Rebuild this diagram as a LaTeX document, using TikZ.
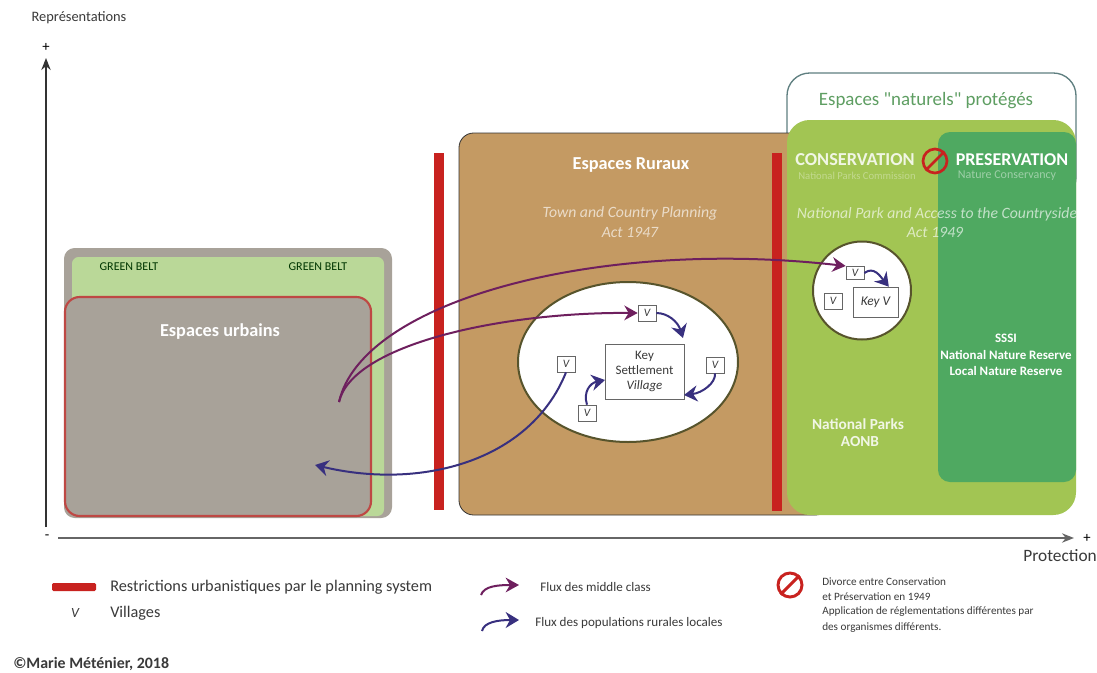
\documentclass[tikz,border=0pt]{standalone}
\usepackage{fontspec}
\setmainfont{Carlito}
\newfontfamily\plainquotes{Carlito}
\usetikzlibrary{arrows.meta}
\definecolor{beltgray}{HTML}{A8A299}
\definecolor{beltgreen}{HTML}{BAD898}
\definecolor{restrred}{HTML}{C8221F}
\definecolor{rural}{HTML}{C49A63}
\definecolor{natgreen}{HTML}{A2C553}
\definecolor{sssigreen}{HTML}{4FA961}
\definecolor{middleflow}{HTML}{6E1F5E}
\definecolor{localflow}{HTML}{38307F}
\definecolor{labelgray}{HTML}{3A3A3A}
\definecolor{natlabel}{HTML}{5E9E62}
\definecolor{natframe}{HTML}{5F7F80}
\newcommand{\fsize}[1]{\fontsize{#1}{#1}\selectfont}
\tikzset{
  villagebox/.style={draw=black!60,fill=white,line width=0.5pt,inner sep=0pt,
    minimum width=13.5pt,minimum height=12pt,font=\fsize{8.5}\itshape,text=labelgray},
  middlearrow/.style={draw=middleflow,line width=1.5pt,-{Stealth[length=10pt,width=11pt]}},
  localarrow/.style={draw=localflow,line width=1.5pt,-{Stealth[length=10pt,width=12pt]}},
  legendtext/.style={anchor=west,inner sep=0pt,text=labelgray,font=\fsize{12.2}},
  flowtext/.style={anchor=west,inner sep=0pt,text=labelgray,font=\fsize{9.8}},
  smalltext/.style={anchor=west,inner sep=0pt,text=labelgray,font=\fsize{8.4}},
  areatitle/.style={text=white,font=\fsize{13.7}\bfseries},
  acttext/.style={text=white,opacity=0.65,font=\fsize{11.8}\itshape},
  sssitext/.style={text=white,font=\fsize{9.7}\bfseries},
  beltlabel/.style={text=black!65!green!60!black,font=\fsize{9}},
  nosign/.style={draw=restrred,line width=2pt,circle,minimum size=18pt,inner sep=0pt},
}
\begin{document}
\begin{tikzpicture}[x=0.75pt,y=-0.75pt]
\useasboundingbox (0,0) rectangle (1097,672);
\fill[white] (0,0) rectangle (1097,672);

% axes
\coordinate (yaxisfoot) at (46,527);
\coordinate (yaxistop) at (46,58);
\coordinate (xaxisfoot) at (58,538);
\coordinate (xaxisend) at (1074,538);
\draw[line width=1.2pt,draw=black!80,-{Stealth[length=9pt,width=7pt]}] (yaxisfoot) -- (yaxistop);
\draw[line width=1.2pt,draw=black!60,-{Stealth[length=9pt,width=7pt]}] (xaxisfoot) -- (xaxisend);
\node[text=labelgray,font=\fsize{10.8}] (ytitle) at (79,18) {Représentations};
\node[font=\fsize{11}] (yplus) at (46,47) {+};
\node[font=\fsize{11}] (xminus) at (47,537) {-};
\node[font=\fsize{11}] (xplus) at (1087,538) {+};
\node[anchor=east,inner sep=0pt,text=labelgray,font=\fsize{13}] (xtitle) at (1097,556) {Protection};

% urban area and green belt
\fill[beltgray,rounded corners=8pt] (64,248) rectangle (392,518);
\fill[beltgreen,rounded corners=5pt] (72,257) rectangle (384,516);
\draw[draw=restrred!70!beltgray,line width=1.6pt,fill=beltgray,rounded corners=11pt] (65,297) rectangle (371,516);
\node[beltlabel] (beltleft) at (129,267) {GREEN BELT};
\node[beltlabel] (beltright) at (318,267) {GREEN BELT};
\node[areatitle] (urbantitle) at (220,332) {Espaces urbains};

% first restriction bar
\fill[restrred] (434,153) rectangle (444,510);

% protected natural area, frame
\draw[draw=natframe,line width=1pt,fill=white,rounded corners=17pt] (787,73) rectangle (1076,200);

% rural area
\draw[draw=black!80,line width=0.6pt,fill=rural,rounded corners=11pt] (459,133) rectangle (830,515);
\node[areatitle] (ruraltitle) at (631,165) {Espaces Ruraux};
\node[acttext] (ruralact) at (630,213) {Town and Country Planning};
\node[acttext] (ruralyear) at (630,232) {Act 1947};

% protected natural area
\fill[natgreen,rounded corners=17pt] (787,120) rectangle (1076,515);
\fill[restrred] (772,153) rectangle (782,511);
\fill[sssigreen,rounded corners=9pt] (938,132) rectangle (1076,482);
\node[text=natlabel,font=\fsize{14.2}\plainquotes] (naturaltitle) at (926,101) {Espaces "naturels" protégés};
\node[text=white!85!natgreen,font=\fsize{13.7}\bfseries] (conservation) at (855,160) {CONSERVATION};
\node[text=white,font=\fsize{13.5}\bfseries] (preservation) at (1012,160) {PRESERVATION};
\node[text=white,opacity=0.35,font=\fsize{8}] (conservsub) at (857,176) {National Parks Commission};
\node[text=white,opacity=0.45,font=\fsize{9}] (preservsub) at (1007,176) {Nature Conservancy};
\node[nosign] (divorce) at (935,161) {};
\draw[draw=restrred,line width=2pt] (divorce.north east) -- (divorce.south west);
\node[acttext] (natact) at (937,214) {National Park and Access to the Countryside};
\node[acttext] (natyear) at (935,232) {Act 1949};
\node[sssitext] (sssi) at (1006,338) {SSSI};
\node[sssitext] (reservenat) at (1006,355) {National Nature Reserve};
\node[sssitext] (reservelocal) at (1006,371) {Local Nature Reserve};
\node[text=white,opacity=0.85,font=\fsize{11.5}\bfseries] (parks) at (858,424) {National Parks};
\node[text=white,opacity=0.85,font=\fsize{11.5}\bfseries] (aonb) at (860,442) {AONB};

% rural settlement
\draw[draw=black!50!olive,line width=1.5pt,fill=white] (628,362) ellipse (110 and 80);
\node[draw=black!60,fill=white,line width=0.5pt,inner sep=0pt,minimum width=59pt,minimum height=41pt,
      align=center,text=labelgray,font=\fsize{9.7}] (keyvillage) at (644.5,371.5)
      {Key\\[1.5pt]Settlement\\[1.5pt]\textit{Village}};
\node[villagebox] (vtop) at (647,313) {V};
\node[villagebox] (vright) at (715,365) {V};
\node[villagebox] (vleft) at (566,364) {V};
\node[villagebox] (vbottom) at (587,413) {V};

% park settlement
\draw[draw=black!50!olive,line width=1.5pt,fill=white] (862,290.5) circle (49);
\node[villagebox,minimum height=10pt] (vparktop) at (855,273) {V};
\node[villagebox] (vparkleft) at (833,301) {V};
\node[draw=black!60,fill=white,line width=0.5pt,inner sep=0pt,minimum width=33.5pt,minimum height=22.5pt,
      text=labelgray,font=\fsize{10}\itshape] (keypark) at (875.5,302) {Key V};

% flows
\coordinate (urbanstart) at (339,402);
\coordinate (urbanend) at (315,465);
\draw[middlearrow] (urbanstart) .. controls (362,300) and (600,238) .. (vparktop.north west);
\draw[middlearrow] (urbanstart) .. controls (352,345) and (500,312) .. (vtop.west);
\draw[localarrow] (vleft.south) .. controls (530,462) and (420,490) .. (urbanend);
\draw[localarrow] (vtop.east) .. controls (668,313) and (678,322) .. (683,338);
\draw[localarrow] (vright.south) .. controls (716,383) and (702,393) .. (684,395);
\draw[localarrow] (vbottom.north) .. controls (583,392) and (590,383) .. (605,380);
\draw[localarrow] (vparktop.east) .. controls (874,266) and (880,276) .. ([xshift=-7pt]keypark.north east);

% legend
\fill[restrred,rounded corners=1pt] (52,583) rectangle (96,591);
\node[legendtext] (legendrestr) at (110,587) {Restrictions urbanistiques par le planning system};
\node[text=labelgray,font=\fsize{10.5}\itshape] (legendv) at (75,613) {V};
\node[legendtext] (legendvillages) at (110,613) {Villages};
\coordinate (middlefoot) at (481,595);
\coordinate (middletip) at (519,585);
\draw[middlearrow] (middlefoot) .. controls (484,586) and (498,585) .. (middletip);
\node[flowtext] (legendmiddle) at (540,587) {Flux des middle class};
\coordinate (localfoot) at (482,631);
\coordinate (localtip) at (519,620);
\draw[localarrow] (localfoot) .. controls (484,622) and (498,620) .. (localtip);
\node[flowtext] (legendlocal) at (535,623) {Flux des populations rurales locales};
\node[nosign,line width=2.2pt] (legenddivorce) at (790,585) {};
\draw[draw=restrred,line width=2.2pt] (legenddivorce.north east) -- (legenddivorce.south west);
\node[smalltext] (divorce1) at (822,582) {Divorce entre Conservation};
\node[smalltext] (divorce2) at (822,597) {et Préservation en 1949};
\node[smalltext] (divorce3) at (822,612) {Application de réglementations différentes par};
\node[smalltext] (divorce4) at (822,628) {des organismes différents.};
\node[anchor=west,inner sep=0pt,text=labelgray,font=\fsize{11.9}\bfseries] (credit) at (13,664) {©Marie Méténier, 2018};
\end{tikzpicture}
\end{document}
